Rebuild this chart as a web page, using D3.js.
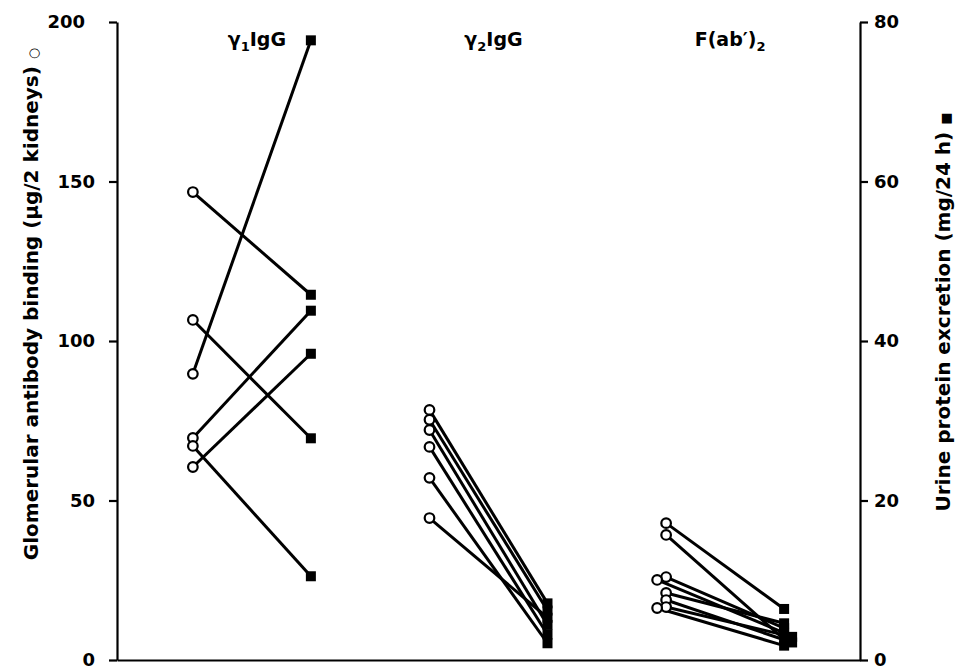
<!DOCTYPE html>
<html>
<head>
<meta charset="utf-8">
<script src="https://cdn.jsdelivr.net/npm/d3@7"></script>
<style>
  body { margin: 0; background: #fff; }
  svg text { font-family: "DejaVu Sans", "Liberation Sans", Arial, sans-serif; font-weight: bold; fill: #000; }
</style>
</head>
<body>
<div id="chart"></div>
<script>
"use strict";

// groups shown across the plot
var groups = ["g1", "g2", "fab"];

// glomerular antibody binding (ug / 2 kidneys), open circles
var g1Binding = [146.7, 106.6, 89.7, 69.6, 67.1, 60.5];
var g2Binding = [78.4, 75.3, 72.1, 66.8, 57.1, 44.5];
var fabBinding = [42.9, 39.2, 26.0, 25.1, 21.0, 18.8, 16.6, 16.3];

// urine protein excretion (mg / 24 h), filled squares, same order as above
var g1Protein = [45.8, 27.8, 77.7, 43.8, 10.5, 38.4];
var g2Protein = [7.1, 6.2, 4.4, 3.2, 2.1, 5.3];
var fabProtein = [6.4, 2.6, 4.0, 3.4, 4.6, 2.2, 2.9, 1.8];

var leftTicks = [0, 50, 100, 150, 200];
var rightTicks = [0, 20, 40, 60, 80];

(function () {
    var width = 958, height = 671;
    var m = { left: 117, right: 860, top: 22, bottom: 660 };
    var font = "DejaVu Sans, Liberation Sans, Arial, sans-serif";

    var svg = d3.select("#chart").append("svg")
        .attr("width", width)
        .attr("height", height);

    var yLeft = d3.scaleLinear().domain([0, 200]).range([m.bottom, m.top]);
    var yRight = d3.scaleLinear().domain([0, 80]).range([m.bottom, m.top]);
    var x = d3.scalePoint().domain(groups).range([m.left, m.right]).padding(0.57);
    var side = d3.scalePoint().domain(["before", "after"]).range([-59, 59]);

    var bindingByGroup = { g1: g1Binding, g2: g2Binding, fab: fabBinding };
    var proteinByGroup = { g1: g1Protein, g2: g2Protein, fab: fabProtein };

    // nudge markers sideways when two of them sit almost on top of each other
    function dodge(ys, step) {
        var out = ys.map(function () { return 0; });
        ys.forEach(function (y, i) {
            for (var j = 0; j < i; j++) {
                if (Math.abs(ys[j] - y) < 4 && out[j] === 0) { out[i] = step; break; }
            }
        });
        return out;
    }

    var pairs = [];
    groups.forEach(function (g) {
        var b = bindingByGroup[g], p = proteinByGroup[g];
        var by = b.map(function (v) { return yLeft(v); });
        var py = p.map(function (v) { return yRight(v); });
        var bd = dodge(by, -9), pd = dodge(py, 8);
        b.forEach(function (v, i) {
            pairs.push({
                x1: x(g) + side("before") + bd[i], y1: by[i],
                x2: x(g) + side("after") + pd[i], y2: py[i]
            });
        });
    });

    // axes
    var leftAxis = svg.append("g")
        .attr("transform", "translate(" + m.left + ",0)")
        .call(d3.axisLeft(yLeft).tickValues(leftTicks).tickSize(8).tickSizeOuter(0).tickPadding(14));
    var rightAxis = svg.append("g")
        .attr("transform", "translate(" + m.right + ",0)")
        .call(d3.axisRight(yRight).tickValues(rightTicks).tickSize(8).tickSizeOuter(0).tickPadding(6));
    var baseAxis = svg.append("g")
        .attr("transform", "translate(0," + m.bottom + ")")
        .call(d3.axisBottom(d3.scaleLinear().domain([0, 1]).range([m.left, m.right])).tickValues([]).tickSizeOuter(0));

    [leftAxis, rightAxis, baseAxis].forEach(function (a) {
        a.selectAll("path, line").attr("stroke", "#000").attr("stroke-width", 2.2);
        a.selectAll("text").style("font-size", "18px").style("font-family", font)
            .style("font-weight", "bold");
    });
    leftAxis.selectAll(".tick text").filter(function (d) { return d === 200; }).attr("dx", -10);

    // connecting lines
    svg.append("g").selectAll("line")
        .data(pairs)
        .enter().append("line")
        .attr("x1", function (d) { return d.x1; })
        .attr("y1", function (d) { return d.y1; })
        .attr("x2", function (d) { return d.x2; })
        .attr("y2", function (d) { return d.y2; })
        .attr("stroke", "#000")
        .attr("stroke-width", 3);

    svg.append("g").selectAll("rect")
        .data(pairs)
        .enter().append("rect")
        .attr("x", function (d) { return d.x2 - 5; })
        .attr("y", function (d) { return d.y2 - 5; })
        .attr("width", 10)
        .attr("height", 10)
        .attr("fill", "#000");

    svg.append("g").selectAll("circle")
        .data(pairs)
        .enter().append("circle")
        .attr("cx", function (d) { return d.x1; })
        .attr("cy", function (d) { return d.y1; })
        .attr("r", 4.8)
        .attr("fill", "#fff")
        .attr("stroke", "#000")
        .attr("stroke-width", 2.2);

    // group headers
    var headers = [
        { g: "g1", parts: [["γ", 0], ["1", 1], ["IgG", 0]] },
        { g: "g2", parts: [["γ", 0], ["2", 1], ["IgG", 0]] },
        { g: "fab", parts: [["F(ab′)", 0], ["2", 1]] }
    ];
    headers.forEach(function (h) {
        var t = svg.append("text")
            .attr("x", x(h.g) + 5)
            .attr("y", 46)
            .attr("text-anchor", "middle")
            .style("font-size", "19px");
        var prev = 0;
        h.parts.forEach(function (p) {
            t.append("tspan")
                .attr("dy", (p[1] - prev) * 5)
                .style("font-size", p[1] ? "13px" : "19px")
                .text(p[0]);
            prev = p[1];
        });
    });

    // axis titles
    svg.append("text")
        .attr("transform", "translate(38,304) rotate(-90)")
        .attr("text-anchor", "middle")
        .style("font-size", "20px")
        .text("Glomerular antibody binding (μg/2 kidneys) ")
        .append("tspan").style("font-size", "13px").text("○");

    svg.append("text")
        .attr("transform", "translate(950,312) rotate(-90)")
        .attr("text-anchor", "middle")
        .style("font-size", "20px")
        .text("Urine protein excretion (mg/24 h) ")
        .append("tspan").style("font-size", "13px").text("■");
})();
</script>
</body>
</html>
